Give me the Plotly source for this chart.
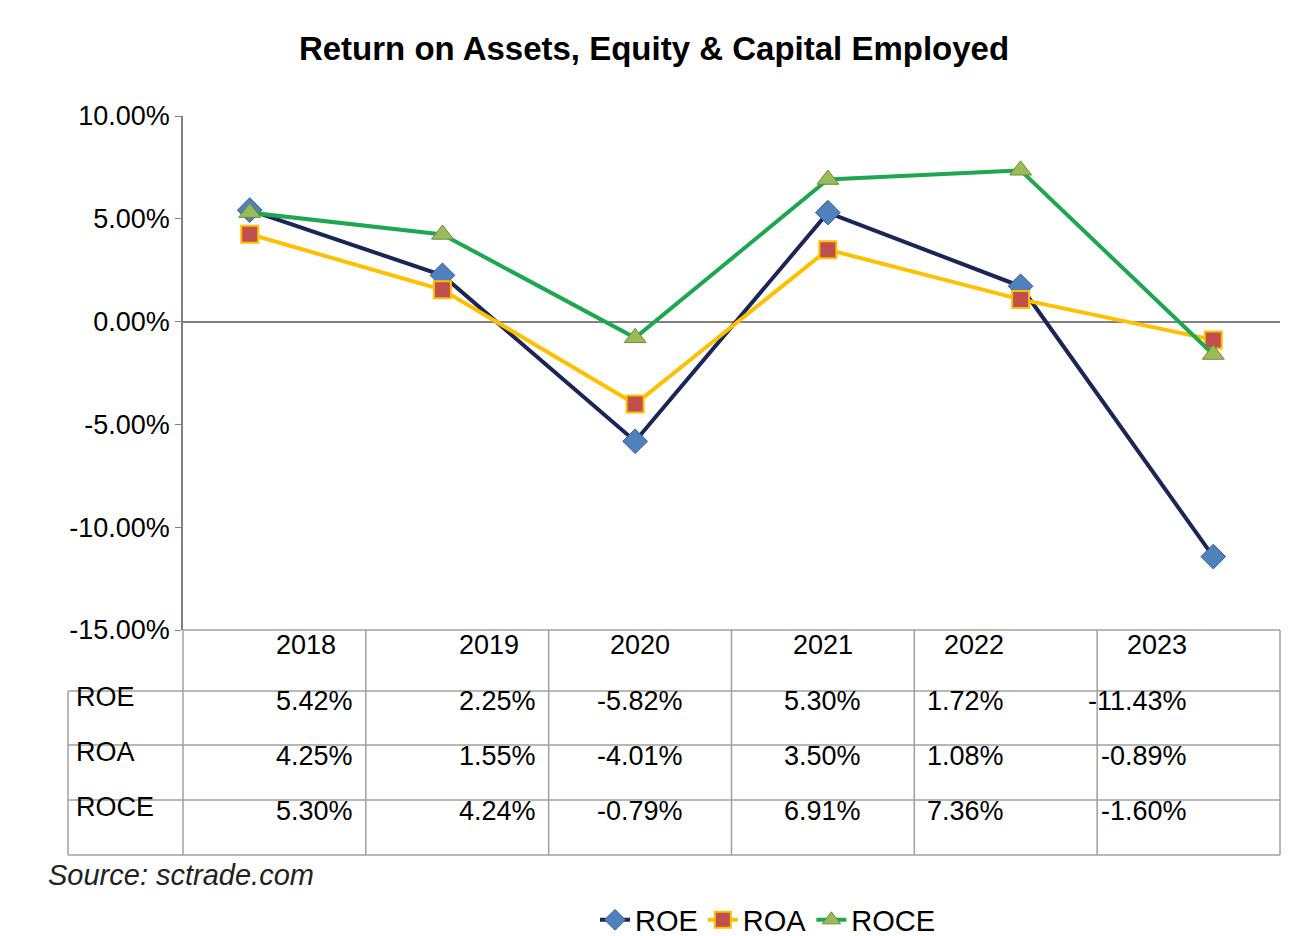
import plotly.graph_objects as go

years = ["2018", "2019", "2020", "2021", "2022", "2023"]
roe = [5.42, 2.25, -5.82, 5.30, 1.72, -11.43]
roa = [4.25, 1.55, -4.01, 3.50, 1.08, -0.89]
roce = [5.30, 4.24, -0.79, 6.91, 7.36, -1.60]
y_ticks = [10, 5, 0, -5, -10, -15]

W, H = 1292, 936
L, R, T, B = 175, 1272, 108, 622
FONT = "Liberation Sans, Arial, sans-serif"


def px(x):
    return (x - L) / (R - L)


def py(y):
    return (B - y) / (B - T)


fig = go.Figure()
fig.add_trace(go.Scatter(x=years, y=roe, name="ROE", mode="lines+markers",
                         line=dict(color="#1b2556", width=4),
                         marker=dict(symbol="diamond", size=19, color="#4f81bd",
                                     line=dict(color="#385d8a", width=1))))
fig.add_trace(go.Scatter(x=years, y=roa, name="ROA", mode="lines+markers",
                         line=dict(color="#ffc000", width=4),
                         marker=dict(symbol="square", size=17, color="#c0504d",
                                     line=dict(color="#ffc000", width=2))))
fig.add_trace(go.Scatter(x=years, y=roce, name="ROCE", mode="lines+markers",
                         line=dict(color="#1fa651", width=4),
                         marker=dict(symbol="triangle-up", size=19, color="#9bbb59",
                                     line=dict(color="#71893f", width=1))))

# data table below the plot
shapes = []
line = dict(color="#a0a0a0", width=1.5)
row_y = [622, 683, 737, 792, 847]
col_x = [L + i * (R - L) / 6 for i in range(7)]
for i, y in enumerate(row_y):
    x0 = L if i == 0 else 60
    shapes.append(dict(type="line", xref="paper", yref="paper",
                       x0=px(x0), x1=px(R), y0=py(y), y1=py(y), line=line))
for x in col_x:
    shapes.append(dict(type="line", xref="paper", yref="paper",
                       x0=px(x), x1=px(x), y0=py(622), y1=py(847), line=line))
shapes.append(dict(type="line", xref="paper", yref="paper",
                   x0=px(60), x1=px(60), y0=py(683), y1=py(847), line=line))

ann = []
tf = dict(family=FONT, size=27, color="#000")
for j, yr in enumerate(years):
    cx = (col_x[j] + col_x[j + 1]) / 2
    ann.append(dict(x=px(cx), y=py(654), xref="paper", yref="paper",
                    text=yr, showarrow=False, font=tf))
for k, (name, vals) in enumerate([("ROE", roe), ("ROA", roa), ("ROCE", roce)]):
    cy = (row_y[k + 1] + row_y[k + 2]) / 2
    ann.append(dict(x=px(66), y=py(cy - 4), xref="paper", yref="paper", xanchor="left",
                    text=name, showarrow=False, font=tf))
    for j, v in enumerate(vals):
        cx = (col_x[j] + col_x[j + 1]) / 2
        ann.append(dict(x=px(cx), y=py(cy), xref="paper", yref="paper",
                        text=f"{v:.2f}%", showarrow=False, font=tf))
ann.append(dict(x=px(38), y=py(885), xref="paper", yref="paper", xanchor="left",
                text="<i>Source: sctrade.com</i>", showarrow=False,
                font=dict(family=FONT, size=29, color="#222")))

fig.update_layout(
    width=W, height=H,
    margin=dict(l=L, r=W - R, t=T, b=H - B, autoexpand=False),
    plot_bgcolor="white", paper_bgcolor="white",
    title=dict(text="<b>Return on Assets, Equity & Capital Employed</b>",
               x=0.5, xanchor="center", y=0.957, yanchor="middle",
               font=dict(family=FONT, size=33, color="#000")),
    xaxis=dict(type="category", showticklabels=False, showgrid=False,
               zeroline=False, ticks=""),
    yaxis=dict(range=[-15, 10], tickvals=y_ticks,
               ticktext=[f"{v:.2f}%" for v in y_ticks],
               showgrid=False, zeroline=True, zerolinecolor="#808080", zerolinewidth=1.5,
               showline=True, linecolor="#808080", linewidth=1.5,
               ticks="outside", tickcolor="#808080", ticklen=6,
               tickfont=dict(family=FONT, size=27, color="#000")),
    showlegend=True,
    legend=dict(orientation="h", x=px(760), xanchor="center", y=py(912), yanchor="middle",
                font=dict(family=FONT, size=29, color="#000")),
    shapes=shapes, annotations=ann,
)
fig.write_html("out.html")
